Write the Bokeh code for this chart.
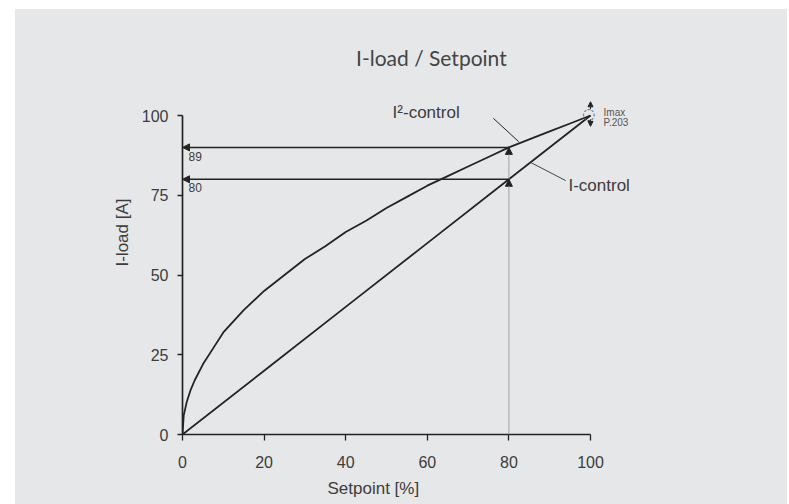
from bokeh.plotting import figure
from bokeh.models import Range1d, FixedTicker, Label, Arrow, NormalHead, Title
from bokeh.embed import file_html
from bokeh.resources import INLINE

# ---- data ----
x_ticks = [0, 20, 40, 60, 80, 100]
y_ticks = [0, 25, 50, 75, 100]

setpoint_lin = [0, 20, 40, 60, 80, 100]
iload_lin = [0, 20, 40, 60, 80, 100]

setpoint_sq = [0, 0.3, 1, 2, 3, 5, 7.5, 10, 15, 20, 25, 30, 35, 40, 45, 50,
               55, 60, 65, 70, 75, 80, 85, 90, 95, 100]
iload_sq = [0, 6, 10, 14, 17, 22, 27, 32, 39, 45, 50, 55, 59, 63.5, 67, 71,
            74.5, 78, 81, 84, 87, 90, 92.5, 95, 97.5, 100]

marker_setpoint = 80
marker_levels = [90, 80]
marker_texts = ["89", "80"]

BG = "#e6e7e9"
DARK = "#232323"
TXT = "#3c3c3c"
FONT = "Liberation Sans"

# frame: 408 px per 100 % horizontally, 319 px per 100 A vertically
X_END = 125.0
Y_END = 404 / 3.19

p = figure(width=772, height=495, output_backend="svg", toolbar_location=None,
           x_range=Range1d(0, X_END), y_range=Range1d(0, Y_END),
           min_border_left=167, min_border_right=95,
           min_border_top=21, min_border_bottom=70,
           background_fill_color=None, border_fill_color=BG,
           outline_line_color=None, margin=(9, 2, 0, 15))
p.styles = {"background-color": BG}
p.grid.visible = False

for ax in (p.xaxis[0], p.yaxis[0]):
    ax.bounds = (0, 100)
    ax.axis_line_color = DARK
    ax.axis_line_width = 1.7
    ax.major_tick_line_color = DARK
    ax.major_tick_line_width = 1.3
    ax.major_tick_in = 0
    ax.minor_tick_line_color = None
    ax.major_label_text_font = FONT
    ax.major_label_text_font_size = "16px"
    ax.major_label_text_color = TXT
    ax.axis_label_text_font = FONT
    ax.axis_label_text_font_size = "17px"
    ax.axis_label_text_font_style = "normal"
    ax.axis_label_text_color = TXT

p.xaxis.ticker = FixedTicker(ticks=x_ticks)
p.yaxis.ticker = FixedTicker(ticks=y_ticks)
p.xaxis.major_tick_out = 6
p.yaxis.major_tick_out = 5
p.xaxis.major_label_standoff = 15
p.yaxis.major_label_standoff = 9

p.yaxis.axis_label = "I-load [A]"
p.yaxis.axis_label_standoff = 7

# x-axis label (placed like the reference, left of the axis centre)
xlab = Title(text="Setpoint [%]", align="left", offset=145, text_font=FONT,
             text_font_size="17px", text_font_style="normal", text_color=TXT)
if "standoff" in Title.properties():
    xlab.standoff = 12
p.add_layout(xlab, "below")

# curves
p.line(setpoint_lin, iload_lin, line_color=DARK, line_width=1.8)
p.line(setpoint_sq, iload_sq, line_color=DARK, line_width=1.8)

# vertical guide at the setpoint with arrowheads at the curve values
p.add_layout(Arrow(x_start=marker_setpoint, y_start=0, x_end=marker_setpoint, y_end=marker_levels[1],
                   line_color="#a0a0a0", line_width=1,
                   end=NormalHead(size=7, fill_color=DARK, line_color=DARK, line_width=1)))
p.add_layout(Arrow(x_start=marker_setpoint, y_start=marker_levels[1], x_end=marker_setpoint, y_end=marker_levels[0],
                   line_color="#a0a0a0", line_width=1,
                   end=NormalHead(size=7, fill_color=DARK, line_color=DARK, line_width=1)))

# horizontal arrows to the y axis, with their values
for lvl, txt in zip(marker_levels, marker_texts):
    p.add_layout(Arrow(x_start=marker_setpoint, y_start=lvl, x_end=0, y_end=lvl,
                       line_color=DARK, line_width=1.5,
                       end=NormalHead(size=7, fill_color=DARK, line_color=DARK, line_width=1)))
    p.add_layout(Label(x=1.5, y=lvl - 1.3, text=txt, text_font=FONT, text_font_size="12px",
                       text_color=TXT, text_baseline="top", text_align="left"))

# curve labels and leaders
p.segment(x0=[76.2], y0=[99.1], x1=[82.4], y1=[91.8], line_color=DARK, line_width=1)
p.segment(x0=[85.3], y0=[85.3], x1=[93.9], y1=[79.6], line_color="#444444", line_width=1)
p.add_layout(Label(x=51.5, y=100.8, text="I²-control", text_font=FONT, text_font_size="17px",
                   text_color=TXT, text_baseline="middle", text_align="left"))
p.add_layout(Label(x=94.6, y=78.0, text="I-control", text_font=FONT, text_font_size="17px",
                   text_color=TXT, text_baseline="middle", text_align="left"))

# Imax marker
p.add_layout(Label(x=99.6, y=100.4, text="◌", text_font="DejaVu Sans", text_font_size="15px",
                   text_color="#555555", text_baseline="middle", text_align="center"))
p.add_layout(Arrow(x_start=100, y_start=102.0, x_end=100, y_end=104.3, line_color=DARK, line_width=1,
                   end=NormalHead(size=5, fill_color=DARK, line_color=DARK, line_width=1)))
p.add_layout(Arrow(x_start=100, y_start=98.8, x_end=100, y_end=96.6, line_color=DARK, line_width=1,
                   end=NormalHead(size=5, fill_color=DARK, line_color=DARK, line_width=1)))
p.add_layout(Label(x=103.2, y=101.0, text="Imax", text_font=FONT, text_font_size="10px",
                   text_color="#555555", text_baseline="middle", text_align="left"))
p.add_layout(Label(x=103.2, y=97.8, text="P.203", text_font=FONT, text_font_size="10px",
                   text_color="#555555", text_baseline="middle", text_align="left"))

# title
p.add_layout(Label(x=61, y=118.2, text="I-load / Setpoint", text_font="Lato", text_font_size="21px",
                   text_color="#444444", text_baseline="middle", text_align="center"))

open("out.html", "w").write(file_html(p, INLINE))
